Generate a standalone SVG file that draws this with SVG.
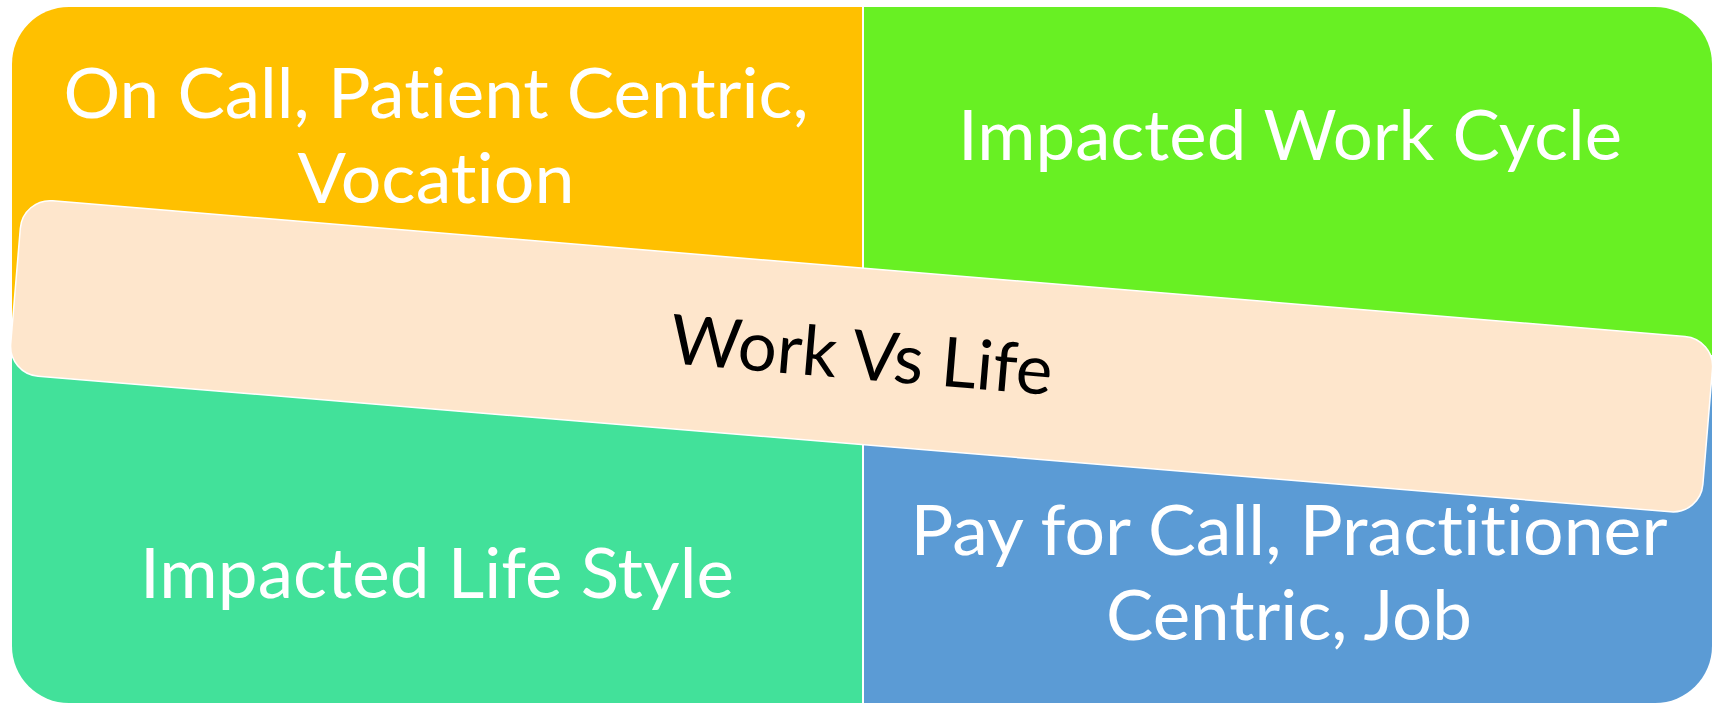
<svg xmlns="http://www.w3.org/2000/svg" width="1713" height="705" viewBox="0 0 1713 705">
  <style>
    .quad-label { font-family: Lato, "Open Sans", "Liberation Sans", sans-serif; font-size: 70px; fill: #ffffff; text-anchor: middle; font-variant-ligatures: none; font-feature-settings: "liga" 0, "dlig" 0; }
    .banner-label { font-family: Lato, "Open Sans", "Liberation Sans", sans-serif; font-size: 69px; fill: #000000; text-anchor: middle; font-variant-ligatures: none; font-feature-settings: "liga" 0; }
    .banner-box { fill: #fee6cc; stroke: #ffffff; stroke-width: 1.5; }
  </style>
  <defs>
    <clipPath id="outline">
      <rect x="12" y="7" width="1700" height="696" rx="57" ry="57"/>
    </clipPath>
  </defs>

  <rect width="1713" height="705" fill="#ffffff"/>

  <!-- four quadrants inside one rounded outline, split by thin white gaps -->
  <g clip-path="url(#outline)">
    <g id="quad-top-left">
      <rect x="12" y="7" width="850" height="348" fill="#ffc000"/>
      <text class="quad-label" x="436" y="118" textLength="745" lengthAdjust="spacingAndGlyphs">On Call, Patient Centric,</text>
      <text class="quad-label" x="436" y="203" textLength="277" lengthAdjust="spacingAndGlyphs">Vocation</text>
    </g>
    <g id="quad-top-right">
      <rect x="864" y="7" width="848" height="348" fill="#68f023"/>
      <text class="quad-label" x="1290" y="160" textLength="664" lengthAdjust="spacingAndGlyphs">Impacted Work Cycle</text>
    </g>
    <g id="quad-bottom-left">
      <rect x="12" y="357" width="850" height="346" fill="#42e19a"/>
      <text class="quad-label" x="437" y="598" textLength="594" lengthAdjust="spacingAndGlyphs">Impacted Life Style</text>
    </g>
    <g id="quad-bottom-right">
      <rect x="864" y="357" width="848" height="346" fill="#5b9bd5"/>
      <text class="quad-label" x="1289" y="555" textLength="757" lengthAdjust="spacingAndGlyphs">Pay for Call, Practitioner</text>
      <text class="quad-label" x="1289" y="640" textLength="366" lengthAdjust="spacingAndGlyphs">Centric, Job</text>
    </g>
  </g>

  <!-- tilted central banner -->
  <g id="banner" transform="translate(861.6 356.3) rotate(4.75)">
    <rect class="banner-box" x="-849" y="-88" width="1698" height="176" rx="30" ry="30"/>
    <text class="banner-label" x="0" y="23">Work Vs Life</text>
  </g>

  <g id="connectors"></g>
</svg>
